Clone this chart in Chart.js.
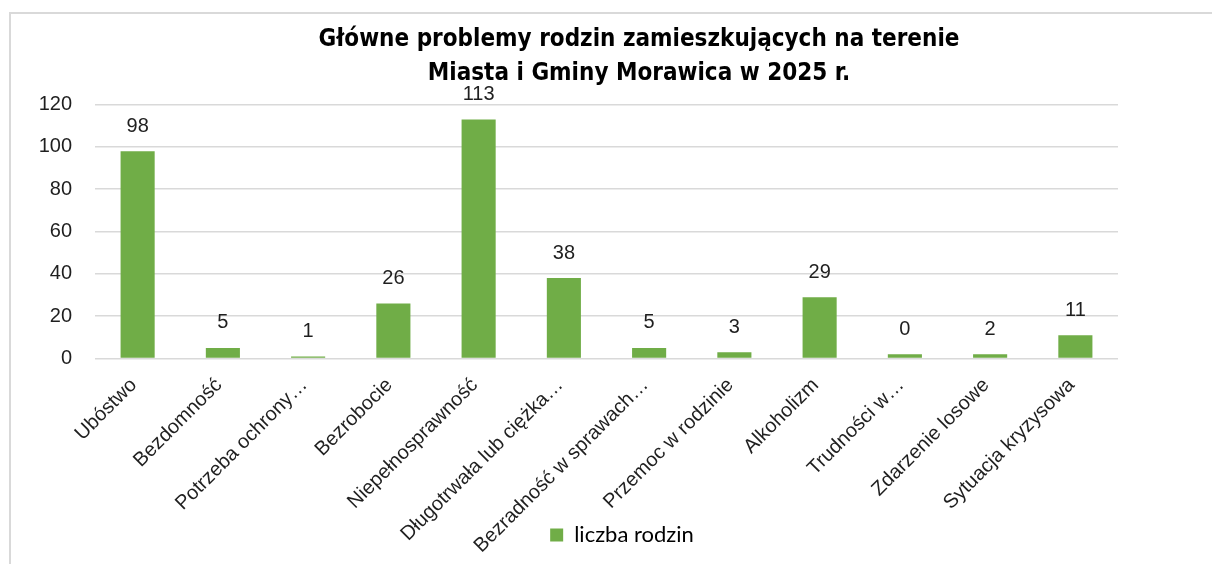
<!DOCTYPE html>
<html>
<head>
<meta charset="utf-8">
<script src="https://cdn.jsdelivr.net/npm/chart.js@4.4.1/dist/chart.umd.min.js"></script>
<style>
  html, body { margin: 0; padding: 0; background: #ffffff; }
  #frame { position: absolute; left: 9px; top: 12px; width: 1203px; height: 552px;
           border-top: 2px solid #d9d9d9; border-left: 2px solid #d9d9d9; box-sizing: border-box; }
  #wrap { position: absolute; left: 0; top: 0; width: 1212px; height: 564px; }
</style>
</head>
<body>
<div id="frame"></div>
<div id="wrap"><canvas id="c" width="1212" height="564"></canvas></div>
<script>
const titleLines = ['Główne problemy rodzin zamieszkujących na terenie', 'Miasta i Gminy Morawica w 2025 r.'];
const categories = ['Ubóstwo', 'Bezdomność', 'Potrzeba ochrony…', 'Bezrobocie', 'Niepełnosprawność',
  'Długotrwała lub ciężka…', 'Bezradność w sprawach…', 'Przemoc w rodzinie', 'Alkoholizm',
  'Trudności w…', 'Zdarzenie losowe', 'Sytuacja kryzysowa'];
const familyCounts = [98, 5, 1, 26, 113, 38, 5, 3, 29, 2, 2, 11];
const valueLabels = ['98', '5', '1', '26', '113', '38', '5', '3', '29', '0', '2', '11'];
const seriesName = 'liczba rodzin';
const yTicks = [0, 20, 40, 60, 80, 100, 120];

const valueLabelPlugin = {
  id: 'valueLabels',
  afterDatasetsDraw(chart) {
    const ctx = chart.ctx;
    const meta = chart.getDatasetMeta(0);
    ctx.save();
    ctx.font = '20px "Liberation Sans", Arial, sans-serif';
    ctx.fillStyle = '#1f1f1f';
    ctx.textAlign = 'center';
    ctx.textBaseline = 'middle';
    meta.data.forEach((bar, i) => {
      ctx.fillText(valueLabels[i], bar.x, bar.y - 25);
    });
    ctx.restore();
  }
};

const shiftBoxesPlugin = {
  id: 'shiftBoxes',
  afterLayout(chart) {
    if (chart.titleBlock) { chart.titleBlock.left = 160; }
    if (chart.legend) { chart.legend.left = 126; }
    if (chart.scales.x) { chart.scales.x.bottom = chart.height; }
  }
};

new Chart(document.getElementById('c'), {
  type: 'bar',
  data: {
    labels: categories,
    datasets: [{
      label: seriesName,
      data: familyCounts,
      backgroundColor: '#70AD47',
      borderWidth: 0,
      barPercentage: 0.4,
      categoryPercentage: 1.0
    }]
  },
  options: {
    responsive: false,
    animation: false,
    layout: { padding: { left: 0, right: 94, top: 0, bottom: 8 } },
    plugins: {
      title: {
        display: true,
        text: titleLines,
        color: '#000000',
        font: { family: '"Liberation Sans Narrow", "DejaVu Sans Condensed", sans-serif', size: 24, weight: 'bold', lineHeight: 1.45 },
        padding: { top: 22, bottom: 13 }
      },
      legend: {
        display: true,
        position: 'bottom',
        labels: {
          boxWidth: 13,
          boxHeight: 13,
          color: '#000000',
          font: { family: 'Lato, "Open Sans", sans-serif', size: 22 },
          padding: 10
        }
      },
      tooltip: { enabled: false }
    },
    scales: {
      x: {
        grid: { display: false },
        border: { display: false },
        ticks: {
          autoSkip: false,
          minRotation: 45,
          maxRotation: 45,
          color: '#1f1f1f',
          padding: 7,
          labelOffset: -4,
          font: { family: '"Liberation Sans", Arial, sans-serif', size: 20 }
        },
        afterFit(scale) { scale.height = 155.5; }
      },
      y: {
        min: 0,
        max: 120,
        afterBuildTicks(scale) { scale.ticks = yTicks.map(v => ({ value: v })); },
        grid: { color: '#d9d9d9', lineWidth: 1.5, drawTicks: false },
        border: { display: false },
        ticks: {
          color: '#1f1f1f',
          padding: 23,
          font: { family: '"Liberation Sans", Arial, sans-serif', size: 20 }
        },
        afterFit(scale) { scale.width = 95; }
      }
    }
  },
  plugins: [valueLabelPlugin, shiftBoxesPlugin]
});
</script>
</body>
</html>
